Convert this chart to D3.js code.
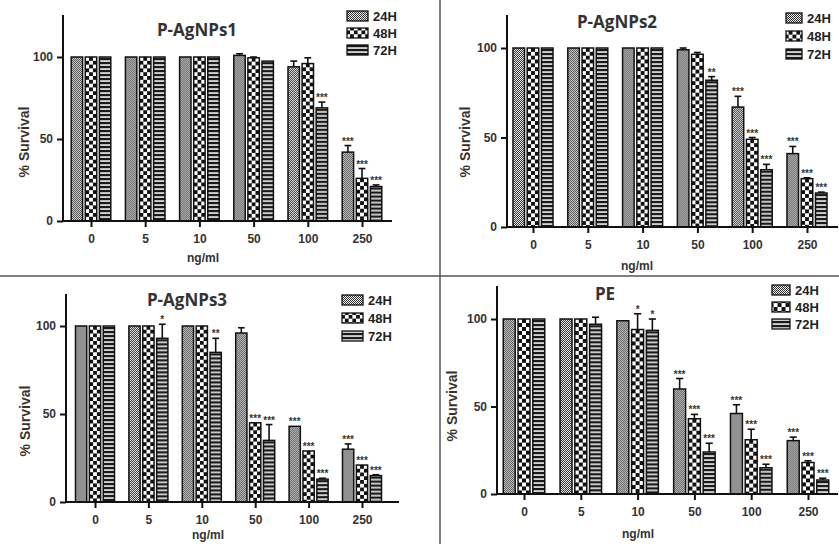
<!DOCTYPE html>
<html><head><meta charset="utf-8">
<script src="https://cdn.jsdelivr.net/npm/d3@7/dist/d3.min.js"></script>
<style>
html,body{margin:0;padding:0;background:#fff;}
svg{display:block;}
.tk{font-family:"Liberation Sans",Arial,sans-serif;font-weight:bold;font-size:12px;fill:#333;}
.ttl{font-family:"Open Sans","Liberation Sans",sans-serif;font-weight:bold;font-size:17px;fill:#333;}
.lg{font-family:"Liberation Sans Narrow","Liberation Sans",Arial,sans-serif;font-weight:bold;font-size:13px;fill:#222;}
.st{font-family:"Liberation Sans",Arial,sans-serif;font-weight:bold;font-size:10px;fill:#333;}
</style>
</head><body>
<svg id="c" width="839" height="544"></svg>
<script>
// ---- data ----
const categories = ["0","5","10","50","100","250"];
const series = ["24H","48H","72H"];
const yTicks = [0,50,100];
const titles = ["P-AgNPs1","P-AgNPs2","P-AgNPs3","PE"];
const xLabel = "ng/ml";
const yLabel = "% Survival";

const p1_24 = [100,100,100,101,94,42];
const p1_48 = [100,100,100,99.5,96,26];
const p1_72 = [100,100,100,97.5,69,21];
const p1_24e = [0,0,0,1,3.5,4];
const p1_48e = [0,0,0,0.5,3.5,6];
const p1_72e = [0,0,0,0,3.5,1];
const p1_24s = ["","","","","","***"];
const p1_48s = ["","","","","","***"];
const p1_72s = ["","","","","***","***"];

const p2_24 = [100,100,100,99,67,41];
const p2_48 = [100,100,100,96.5,49,27];
const p2_72 = [100,100,100,82,32,19];
const p2_24e = [0,0,0,1,6,4];
const p2_48e = [0,0,0,1,1,0.5];
const p2_72e = [0,0,0,2,3,0.5];
const p2_24s = ["","","","","***","***"];
const p2_48s = ["","","","","***","***"];
const p2_72s = ["","","","**","***","***"];

const p3_24 = [100,100,100,96,43,30];
const p3_48 = [100,100,100,45,29,21];
const p3_72 = [100,93,85,35,13,15];
const p3_24e = [0,0,0,3,0,3];
const p3_48e = [0,0,0,0,0,0];
const p3_72e = [0,8,8,9,0.5,0.5];
const p3_24s = ["","","","","***","***"];
const p3_48s = ["","","","***","***","***"];
const p3_72s = ["","*","**","***","***","***"];

const p4_24 = [100,100,99,60,46,30.5];
const p4_48 = [100,100,94,43,31,18];
const p4_72 = [100,97,93.5,24,15,8];
const p4_24e = [0,0,0,6,5,2];
const p4_48e = [0,0,9,2.5,6,1];
const p4_72e = [0,4,6.5,5,2,1];
const p4_24s = ["","","","***","***","***"];
const p4_48s = ["","","*","***","***","***"];
const p4_72s = ["","","*","***","***","***"];

const panelValues = [[p1_24,p1_48,p1_72],[p2_24,p2_48,p2_72],[p3_24,p3_48,p3_72],[p4_24,p4_48,p4_72]];
const panelErrors = [[p1_24e,p1_48e,p1_72e],[p2_24e,p2_48e,p2_72e],[p3_24e,p3_48e,p3_72e],[p4_24e,p4_48e,p4_72e]];
const panelStars  = [[p1_24s,p1_48s,p1_72s],[p2_24s,p2_48s,p2_72s],[p3_24s,p3_48s,p3_72s],[p4_24s,p4_48s,p4_72s]];

// ---- layout ----
const layouts = [
  {ax:63, top:15, y0:221, y100:57, xf:91, xl:362, end:392, tx:197, ty:30, lx:347, lw:21, ly:[16,33,50], ylx:24, yly:142, xlx:203, xly:258},
  {ax:507, top:15, y0:227, y100:48, xf:533, xl:807, end:838, tx:617, ty:22, lx:786, lw:16, ly:[18,36,54], ylx:465, yly:142, xlx:637, xly:266},
  {ax:66, top:294, y0:502, y100:326, xf:95, xl:362, end:399, tx:187, ty:300, lx:342, lw:21, ly:[300,318,336], ylx:25, yly:421, xlx:208, xly:535},
  {ax:497, top:286, y0:494, y100:319, xf:524, xl:808, end:838, tx:605, ty:294, lx:772, lw:18, ly:[290,307,324], ylx:452, yly:406, xlx:638, xly:534}
];

const svg = d3.select("#c");
const defs = svg.append("defs");

svg.append("line").attr("x1",440).attr("x2",440).attr("y1",0).attr("y2",544).attr("stroke","#555").attr("stroke-width",1.5);
svg.append("line").attr("x1",0).attr("x2",839).attr("y1",276).attr("y2",276).attr("stroke","#555").attr("stroke-width",1.5);

function makePatterns(pi, bw){
  const a = defs.append("pattern").attr("id","pa"+pi).attr("patternUnits","userSpaceOnUse").attr("width",2).attr("height",2);
  a.append("rect").attr("width",2).attr("height",2).attr("fill","#eee");
  a.append("rect").attr("width",1).attr("height",1).attr("fill","#333");
  a.append("rect").attr("x",1).attr("y",1).attr("width",1).attr("height",1).attr("fill","#333");
  const c = bw/3;
  const b = defs.append("pattern").attr("id","pb"+pi).attr("patternUnits","userSpaceOnUse").attr("width",2*c).attr("height",2*c);
  b.append("rect").attr("width",2*c).attr("height",2*c).attr("fill","#111");
  b.append("rect").attr("width",c).attr("height",c).attr("fill","#fff");
  b.append("rect").attr("x",c).attr("y",c).attr("width",c).attr("height",c).attr("fill","#fff");
  const s = defs.append("pattern").attr("id","pc"+pi).attr("patternUnits","userSpaceOnUse").attr("width",4).attr("height",4);
  s.append("rect").attr("width",4).attr("height",4).attr("fill","#fff");
  s.append("rect").attr("y",0.8).attr("width",4).attr("height",2.5).attr("fill","#1a1a1a");
}

layouts.forEach((L, pi) => {
  const g = svg.append("g");
  const y = d3.scaleLinear().domain([0,100]).range([L.y0, L.y100]);
  const x = d3.scalePoint().domain(categories).range([L.xf, L.xl]);
  const step = x.step();
  const sub = 0.26*step;
  const sb = d3.scaleBand().domain(series).range([-1.5*sub, 1.5*sub]).paddingInner(0.19).paddingOuter(0.095);
  const bw = sb.bandwidth();
  makePatterns(pi, bw);
  const fills = ["url(#pa"+pi+")","url(#pb"+pi+")","url(#pc"+pi+")"];
  const starG = g.append("g").style("opacity",0.99);

  series.forEach((s, si) => {
    const vals = panelValues[pi][si], errs = panelErrors[pi][si], stars = panelStars[pi][si];
    categories.forEach((cat, ci) => {
      const v = vals[ci];
      const bx = x(cat) + sb(s);
      const cx = bx + bw/2;
      if (errs[ci] > 0) {
        const yt = y(v + errs[ci]);
        g.append("line").attr("x1",cx).attr("x2",cx).attr("y1",y(v)).attr("y2",yt).attr("stroke","#111").attr("stroke-width",1.6);
        g.append("line").attr("x1",cx-bw*0.3).attr("x2",cx+bw*0.3).attr("y1",yt).attr("y2",yt).attr("stroke","#111").attr("stroke-width",1.6);
      }
      const bg = g.append("g").attr("transform","translate("+bx+","+y(v)+")");
      bg.append("rect").attr("x",0).attr("y",0).attr("width",bw).attr("height",L.y0 - y(v))
        .attr("fill",fills[si]).attr("stroke","#111").attr("stroke-width",1.5);
      if (stars[ci]) {
        starG.append("text").attr("class","st").attr("x",cx).attr("y",y(v+errs[ci]) - 1)
          .attr("text-anchor","middle").text(stars[ci]);
      }
    });
  });

  g.append("line").attr("x1",L.ax).attr("x2",L.ax).attr("y1",L.top).attr("y2",L.y0).attr("stroke","#111").attr("stroke-width",2);
  const ya = g.append("g").attr("transform","translate("+L.ax+",0)")
    .call(d3.axisLeft(y).tickValues(yTicks).tickSize(6).tickPadding(4));
  ya.select(".domain").remove();
  ya.selectAll(".tick line").attr("stroke","#111").attr("stroke-width",2);
  ya.selectAll(".tick text").attr("class","tk").attr("fill",null).style("font-size","12px");

  g.append("line").attr("x1",L.ax-1).attr("x2",L.end).attr("y1",L.y0).attr("y2",L.y0).attr("stroke","#111").attr("stroke-width",2);
  const xa = g.append("g").attr("transform","translate(0,"+L.y0+")")
    .call(d3.axisBottom(x).tickSize(6).tickPadding(7));
  xa.select(".domain").remove();
  xa.selectAll(".tick line").attr("stroke","#111").attr("stroke-width",2);
  xa.selectAll(".tick text").attr("class","tk").attr("fill",null).style("font-size","12px");

  g.append("text").attr("class","ttl").attr("x",L.tx).attr("y",L.ty).attr("dy","0.35em").attr("text-anchor","middle").text(titles[pi]);
  g.append("text").attr("class","tk").attr("transform","translate("+L.ylx+","+L.yly+") rotate(-90)")
    .attr("text-anchor","middle").attr("dy","0.35em").style("font-size","14px").style("fill","#3a3228").text(yLabel);
  g.append("text").attr("class","tk").attr("x",L.xlx).attr("y",L.xly).attr("dy","0.35em").attr("text-anchor","middle").text(xLabel);

  series.forEach((s, si) => {
    const ly = L.ly[si];
    g.append("rect").attr("x",L.lx).attr("y",ly-5).attr("width",L.lw).attr("height",10)
      .attr("fill",fills[si]).attr("stroke","#111").attr("stroke-width",1.3);
    g.append("text").attr("class","lg").attr("x",L.lx+L.lw+5).attr("y",ly).attr("dy","0.36em").text(s);
  });
});
</script>
</body></html>
